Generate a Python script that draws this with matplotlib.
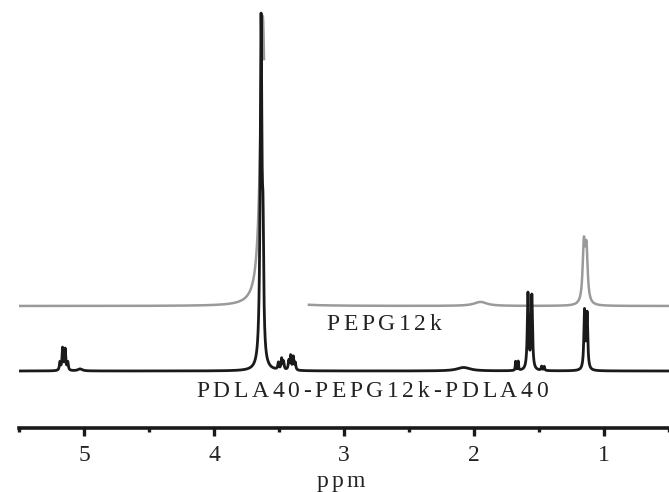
import numpy as np
import matplotlib
matplotlib.use("Agg")
import matplotlib.pyplot as plt
from matplotlib.ticker import MultipleLocator
from matplotlib.transforms import IdentityTransform

# ppm window and ticks
ppm_left, ppm_right = 5.5, 0.5
tick_pos = [5, 4, 3, 2, 1]
tick_labels = ["5", "4", "3", "2", "1"]

# PDLA40-PEPG12k-PDLA40 (black) peaks: position (ppm), height, half width
black_pos = [5.185, 5.165, 5.145, 5.125, 5.03,
             3.638, 3.623,
             3.505, 3.48, 3.465, 3.425, 3.41, 3.39, 3.375,
             2.08,
             1.68, 1.66, 1.585, 1.555, 1.48, 1.46,
             1.15, 1.13]
black_height = [8, 22, 21, 8, 2,
                344, 100,
                7, 11, 8, 9, 14, 13, 7,
                3.5,
                9, 9, 76, 74, 4, 4,
                58, 55]
black_width = [0.005, 0.005, 0.005, 0.005, 0.02,
               0.008, 0.006,
               0.005, 0.005, 0.005, 0.005, 0.005, 0.005, 0.005,
               0.06,
               0.003, 0.003, 0.006, 0.006, 0.004, 0.004,
               0.006, 0.006]

# PEPG12k (gray) peaks
gray_pos = [3.625, 1.95, 1.155, 1.135]
gray_height = [290, 4, 57, 52]
gray_width = [0.023, 0.06, 0.011, 0.011]
gray_offset = 65
gray_gap = (3.27, 3.615)

labels = ["PEPG12k", "PDLA40-PEPG12k-PDLA40", "ppm"]


def spectrum(x, pos, height, width):
    y = np.zeros_like(x)
    for p, h, w in zip(pos, height, width):
        y += h / (1 + ((x - p) / w) ** 2)
    return y


def tracked_text(fig, s, x_center, y_base, width, **kw):
    # draw text letter by letter to get the wide letter spacing
    r = fig.canvas.get_renderer()
    ws = []
    for ch in s:
        t = fig.text(0, 0, ch, transform=IdentityTransform(), **kw)
        ws.append(t.get_window_extent(r).width)
        t.remove()
    gap = (width - sum(ws)) / (len(s) - 1)
    x = x_center - width / 2
    for ch, w in zip(s, ws):
        fig.text(x, y_base, ch, transform=IdentityTransform(),
                 ha="left", va="baseline", **kw)
        x += w + gap


W, H = 669, 492
fig = plt.figure(figsize=(W / 100, H / 100), dpi=100)
ax = fig.add_axes([19 / W, 64 / H, 650 / W, 428 / H])

x = np.linspace(ppm_left, ppm_right, 8000)
y_black = spectrum(x, black_pos, black_height, black_width)
y_gray = spectrum(x, gray_pos, gray_height, gray_width) + gray_offset
y_gray[(x > gray_gap[0]) & (x < gray_gap[1])] = np.nan

ax.plot(x, y_gray, color="#9a9a9a", lw=1.8, solid_joinstyle="round")
ax.plot(x, y_black, color="#1a1a1a", lw=2.0, solid_joinstyle="round")

ax.set_xlim(ppm_left, ppm_right)
ax.set_ylim(-57, 371)

for s in ["left", "right", "top"]:
    ax.spines[s].set_visible(False)
ax.spines["bottom"].set_linewidth(2.6)
ax.spines["bottom"].set_color("#1a1a1a")
ax.set_yticks([])
ax.set_xticks(tick_pos)
ax.set_xticklabels(tick_labels, fontfamily="Liberation Serif", fontsize=17,
                   color="#222222")
ax.xaxis.set_minor_locator(MultipleLocator(0.5))
ax.tick_params(axis="x", which="major", length=6, width=2.4, pad=6,
               color="#1a1a1a")
ax.tick_params(axis="x", which="minor", length=3, width=2.4, color="#1a1a1a")

font = dict(fontfamily="Liberation Serif", fontsize=17, color="#222222")
tracked_text(fig, labels[0], 384, H - 330, 115, **font)
tracked_text(fig, labels[1], 372, H - 397, 352, **font)
tracked_text(fig, labels[2], 341, H - 487, 48, **font)

fig.savefig("out.png", dpi=100)
